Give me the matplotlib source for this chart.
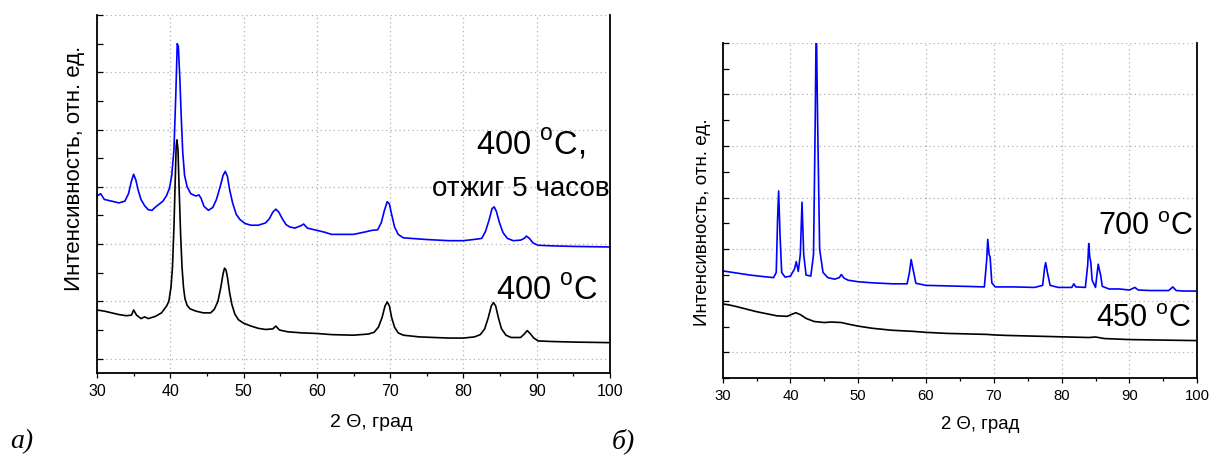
import matplotlib
matplotlib.use("Agg")
import matplotlib.pyplot as plt
from matplotlib.ticker import MultipleLocator

plt.rcParams['font.family'] = ['Liberation Sans', 'DejaVu Sans']
plt.rcParams['mathtext.fontset'] = 'custom'
plt.rcParams['mathtext.rm'] = 'Liberation Sans'

# ---- panel a) : 400 C ----
a_black_x = [30, 31, 32, 33, 34, 34.7, 35.0, 35.4, 36, 36.5, 37, 38, 38.8, 39.5, 39.8, 40.1, 40.3, 40.5,
             40.65, 40.8, 40.9, 41.05, 41.2, 41.4, 41.6, 41.8, 42.0, 42.3, 42.7, 43.5, 44.5, 45.5, 46.0,
             46.5, 46.9, 47.2, 47.4, 47.6, 47.8, 48.1, 48.4, 48.8, 49.3, 50, 51, 52, 53, 54, 54.4, 54.9,
             56, 58, 60, 62, 65, 67, 67.8, 68.4, 68.9, 69.3, 69.6, 69.9, 70.2, 70.6, 71.1, 71.8, 74, 76,
             78, 80, 81.5, 82.3, 82.9, 83.4, 83.8, 84.1, 84.4, 84.8, 85.2, 85.8, 86.5, 87.8, 88.3, 88.7,
             89.1, 89.6, 90.2, 92, 95, 100]
a_black_y = [0.85, 0.83, 0.80, 0.77, 0.75, 0.76, 0.85, 0.76, 0.70, 0.73, 0.70, 0.74, 0.80, 0.92, 1.0,
             1.25, 1.6, 2.3, 3.0, 3.7, 3.82, 3.65, 3.0, 2.2, 1.6, 1.25, 1.05, 0.93, 0.87, 0.83, 0.80,
             0.80, 0.86, 1.0, 1.25, 1.48, 1.58, 1.55, 1.42, 1.15, 0.95, 0.78, 0.68, 0.62, 0.57, 0.53,
             0.51, 0.52, 0.57, 0.50, 0.47, 0.45, 0.44, 0.42, 0.41, 0.43, 0.46, 0.55, 0.72, 0.92, 0.99,
             0.92, 0.72, 0.55, 0.45, 0.41, 0.38, 0.37, 0.36, 0.36, 0.38, 0.42, 0.52, 0.72, 0.92, 0.98,
             0.92, 0.70, 0.52, 0.41, 0.37, 0.37, 0.43, 0.49, 0.44, 0.36, 0.31, 0.30, 0.29, 0.28]

a_blue_x = [30, 30.5, 31, 32, 33, 33.8, 34.3, 34.7, 35.0, 35.3, 35.6, 36.0, 36.5, 37, 37.5, 38, 38.5, 39,
            39.5, 39.9, 40.2, 40.5, 40.75, 40.95, 41.1, 41.3, 41.5, 41.7, 41.95, 42.3, 42.8, 43.5, 43.9,
            44.2, 44.6, 45.2, 45.8, 46.3, 46.8, 47.2, 47.5, 47.8, 48.1, 48.5, 49.0, 49.5, 50.2, 51, 52,
            53.0, 53.5, 54.0, 54.4, 54.8, 55.3, 55.8, 56.3, 57, 57.8, 58.2, 58.7, 60, 61, 62, 64, 65, 66.5,
            67.5, 68.3, 68.8, 69.2, 69.6, 69.9, 70.2, 70.6, 71.1, 71.8, 75, 78, 80, 82, 82.5, 83.0, 83.5,
            83.9, 84.2, 84.5, 84.9, 85.4, 86.0, 86.8, 87.8, 88.3, 88.6, 89.0, 89.5, 90.2, 92, 95, 100]
a_blue_y = [2.84, 2.88, 2.78, 2.75, 2.72, 2.75, 2.88, 3.1, 3.22, 3.12, 2.95, 2.78, 2.67, 2.60, 2.59, 2.65,
            2.70, 2.75, 2.85, 2.98, 3.2, 3.65, 4.6, 5.5, 5.45, 4.9, 4.2, 3.6, 3.2, 3.0, 2.88, 2.84, 2.86,
            2.80, 2.66, 2.59, 2.64, 2.78, 3.0, 3.2, 3.27, 3.18, 2.95, 2.72, 2.52, 2.43, 2.36, 2.33, 2.33,
            2.37, 2.44, 2.56, 2.61, 2.56, 2.44, 2.34, 2.30, 2.28, 2.32, 2.35, 2.28, 2.24, 2.21, 2.17, 2.17,
            2.17, 2.21, 2.24, 2.25, 2.38, 2.58, 2.74, 2.70, 2.52, 2.30, 2.17, 2.11, 2.08, 2.06, 2.06, 2.09,
            2.10, 2.22, 2.42, 2.62, 2.65, 2.57, 2.38, 2.20, 2.10, 2.06, 2.07, 2.10, 2.14, 2.10, 2.02, 1.98,
            1.97, 1.96, 1.95]

# ---- panel b) : 450 C and 700 C ----
b_blue_x = [30, 32, 34, 36, 37.5, 37.9, 38.1, 38.25, 38.45, 38.7, 39.2, 40, 40.6, 40.85, 41.15, 41.45,
            41.7, 41.95, 42.3, 43.0, 43.4, 43.65, 43.8, 44.0, 44.3, 44.8, 45.5, 46.5, 47.2, 47.5, 47.9,
            48.5, 50, 52, 55, 57.2, 57.55, 57.8, 58.1, 58.5, 60, 63, 66, 68.6, 68.95, 69.1, 69.3, 69.45,
            69.7, 70.2, 73, 76, 77.2, 77.5, 77.65, 77.9, 78.3, 79.5, 81.5, 81.8, 82.1, 83.5, 83.85, 84.0,
            84.15, 84.3, 84.5, 85.0, 85.25, 85.4, 85.6, 85.75, 86.0, 87, 88.5, 90, 90.8, 91.3, 93, 95.8,
            96.4, 96.9, 98, 100]
b_blue_y = [1.58, 1.54, 1.50, 1.47, 1.45, 1.55, 2.6, 3.13, 2.3, 1.55, 1.46, 1.48, 1.62, 1.76, 1.57, 1.9,
            2.91, 1.9, 1.50, 1.48, 1.9, 4.5, 6.5, 4.5, 2.0, 1.55, 1.45, 1.42, 1.45, 1.51, 1.44, 1.40, 1.37,
            1.35, 1.33, 1.33, 1.55, 1.80, 1.6, 1.34, 1.30, 1.29, 1.28, 1.27, 1.8, 2.19, 1.9, 1.85, 1.35,
            1.27, 1.27, 1.26, 1.30, 1.65, 1.74, 1.55, 1.30, 1.26, 1.26, 1.33, 1.27, 1.26, 1.7, 2.11, 1.85,
            1.75, 1.4, 1.26, 1.55, 1.71, 1.58, 1.50, 1.28, 1.23, 1.23, 1.21, 1.26, 1.21, 1.20, 1.20, 1.27,
            1.20, 1.19, 1.19]

b_black_x = [30, 31, 32, 33.5, 35, 36.5, 38, 39.5, 40.2, 40.8, 41.5, 42.3, 43.5, 45, 46, 47.5, 48.5, 50,
             52, 55, 58, 60, 63, 66, 69, 70, 72, 75, 78, 81, 84, 85, 86.3, 90, 95, 100]
b_black_y = [0.94, 0.92, 0.89, 0.84, 0.79, 0.75, 0.71, 0.70, 0.74, 0.77, 0.73, 0.66, 0.60, 0.58, 0.59,
             0.58, 0.55, 0.51, 0.47, 0.43, 0.41, 0.39, 0.37, 0.36, 0.35, 0.34, 0.33, 0.32, 0.31, 0.30,
             0.29, 0.30, 0.27, 0.25, 0.24, 0.23]

x_ticks = [30, 40, 50, 60, 70, 80, 90, 100]
y_label = "Интенсивность, отн. ед."
x_label = "2 Θ, град"

W, H = 1211, 459
fig = plt.figure(figsize=(W / 100, H / 100), dpi=100)
axA = fig.add_axes([97 / W, 1 - 373 / H, 513 / W, 358 / H])
axB = fig.add_axes([722.7 / W, 1 - 378.3 / H, 474.5 / W, 335.6 / H])


def style(ax, ylim, tick_fs, xl_fs, yl_fs):
    ax.set_xlim(30, 100)
    ax.set_ylim(*ylim)
    ax.set_xticks(x_ticks)
    ax.xaxis.set_minor_locator(MultipleLocator(5))
    ax.yaxis.set_major_locator(MultipleLocator(1))
    ax.yaxis.set_minor_locator(MultipleLocator(0.5))
    ax.set_yticklabels([])
    ax.tick_params(axis='x', which='both', direction='out', top=False, width=0.9)
    ax.tick_params(axis='x', which='major', length=3.7, labelsize=tick_fs, pad=3.9)
    ax.tick_params(axis='x', which='minor', length=2.0)
    ax.tick_params(axis='y', which='both', direction='in', right=False, width=0.9, length=4.0)
    ax.spines['top'].set_visible(False)
    for s in ('left', 'bottom', 'right'):
        ax.spines[s].set_linewidth(1.3)
    ax.grid(True, which='major', color='#b0b0b0', linestyle=(0, (1, 2.5)), linewidth=0.9)
    ax.set_axisbelow(True)
    ax.set_xlabel(x_label, fontsize=xl_fs)
    ax.set_ylabel(y_label, fontsize=yl_fs)
    ax.xaxis.label.set_verticalalignment('baseline')
    ax.yaxis.label.set_verticalalignment('center')


style(axA, (-0.25, 6.0), 11.5, 14, 16)
axA.plot(a_blue_x, a_blue_y, color='#0000ff', lw=1.2)
axA.plot(a_black_x, a_black_y, color='black', lw=1.2)
axA.xaxis.set_label_coords(0.535, -0.150)
axA.yaxis.set_label_coords(-0.043, 0.571)
axA.text(96.6, 3.57, "400 $^\\mathregular{o}$C,", fontsize=23.5, ha='right', va='baseline')
axA.text(99.9, 2.84, "отжиг 5 часов", fontsize=20, ha='right', va='baseline')
axA.text(98.4, 1.03, "400 $^\\mathregular{o}$C", fontsize=23.5, ha='right', va='baseline')

style(axB, (-0.5, 6.0), 10.7, 13.4, 13.6)
axB.plot(b_blue_x, b_blue_y, color='#0000ff', lw=1.2)
axB.plot(b_black_x, b_black_y, color='black', lw=1.2)
axB.xaxis.set_label_coords(0.543, -0.151)
axB.yaxis.set_label_coords(-0.0436, 0.464)
axB.text(99.4, 2.27, "700 $^\\mathregular{o}$C", fontsize=22, ha='right', va='baseline')
axB.text(99.1, 0.49, "450 $^\\mathregular{o}$C", fontsize=22, ha='right', va='baseline')

fig.text(10 / W, 1 - 448 / H, "а)", fontsize=20, family='Liberation Serif', style='italic')
fig.text(612 / W, 1 - 448 / H, "б)", fontsize=20, family='Liberation Serif', style='italic')

fig.savefig("out.png", dpi=100)
